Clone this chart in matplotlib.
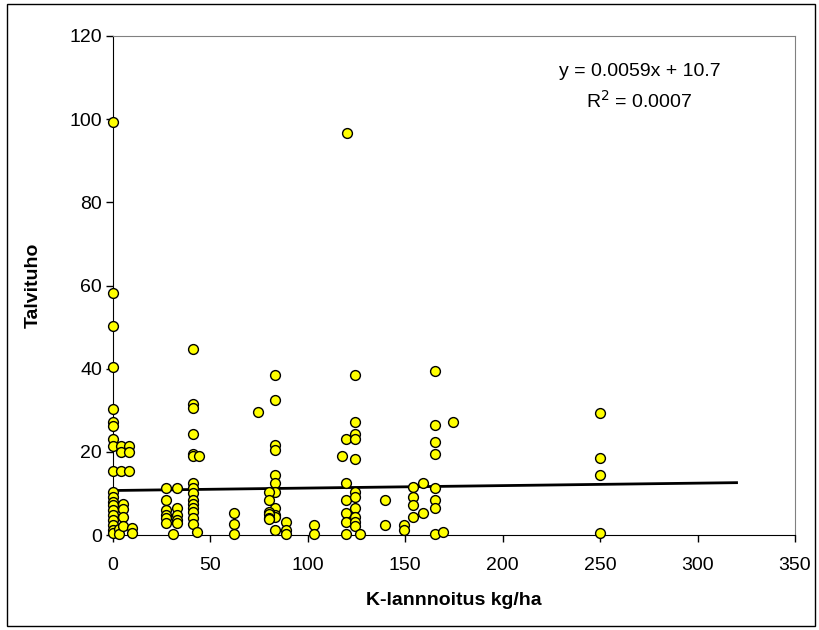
import numpy as np
import matplotlib.pyplot as plt
from matplotlib.patches import Rectangle

plt.rcParams['font.family'] = ['Liberation Sans', 'DejaVu Sans']

# K-lannoitus kg/ha
k_rate = [0, 0, 0, 0, 0, 0, 0, 0, 0, 0, 0, 0, 0, 0, 0, 0, 0, 0, 0, 0,
          4, 4, 4, 3, 3, 8, 8, 8, 5, 5, 5, 5, 10, 10,
          27, 27, 27, 27, 27, 27, 33, 33, 33, 33, 33, 31,
          41, 41, 41, 41, 41, 41, 41, 41, 41, 41, 41, 41, 41, 41, 41, 44, 43,
          62, 62, 62, 74.5,
          83, 83, 83, 83, 83, 83, 83, 83, 83, 83, 83,
          80, 80, 80, 80, 80, 80,
          89, 89, 89, 103, 103,
          120, 119.5, 119.5, 119.5, 119.5, 119.5, 119.5, 117.3,
          124, 124, 124, 124, 124, 124, 124, 124, 124, 124, 124, 127,
          139.5, 139.5, 149.5, 149.5, 154, 154, 154, 154, 159, 159,
          165.5, 165.5, 165.5, 165.5, 165.5, 165.5, 165.5, 165.5, 169.5, 174.5,
          250, 250, 250, 250]
# Talvituho
damage = [99.3, 58.3, 50.3, 40.5, 30.3, 27.2, 26.3, 23.2, 21.5, 15.4, 10.4, 9.2, 8.0, 7.2, 6.0, 4.8, 3.6, 2.4, 1.2, 0.4,
          21.5, 20.0, 15.4, 1.5, 0.3, 21.5, 20.0, 15.4, 7.5, 6.2, 4.4, 2.2, 1.6, 0.4,
          11.4, 8.4, 6.0, 4.8, 4.0, 3.0, 11.4, 6.6, 4.8, 3.6, 2.8, 0.3,
          44.7, 31.5, 30.5, 24.4, 19.5, 12.4, 11.3, 10.0, 8.4, 7.4, 6.4, 5.6, 4.0, 2.7, 19.0, 19.0, 0.8,
          5.2, 2.6, 0.2, 29.5,
          38.5, 32.5, 21.6, 20.4, 14.4, 12.6, 10.4, 6.4, 4.8, 1.2, 4.4,
          10.4, 8.4, 5.6, 5.0, 4.2, 3.8,
          3.2, 1.2, 0.2, 2.4, 0.2,
          96.7, 23.2, 12.4, 8.4, 5.2, 3.2, 0.2, 19.0,
          38.5, 27.2, 24.4, 23.2, 18.3, 10.4, 9.2, 6.4, 4.4, 3.2, 2.2, 0.2,
          8.4, 2.4, 2.4, 1.2, 11.5, 9.2, 7.2, 4.4, 12.4, 5.2,
          39.4, 26.5, 22.4, 19.4, 11.4, 8.4, 6.4, 0.2, 0.8, 27.2,
          29.4, 18.4, 14.4, 0.4]

slope = 0.0059
intercept = 10.7
fit_x = [0, 320]

fig = plt.figure(figsize=(8.19, 6.3), dpi=100)
ax = fig.add_axes([113 / 819, 95 / 630, 682 / 819, 499 / 630])

ax.scatter(k_rate, damage, s=50, c='#FFFF00', edgecolors='black', linewidths=1.0,
           zorder=3, clip_on=False)
ax.plot(fit_x, [intercept + slope * v for v in fit_x], color='black', lw=2, zorder=2)

ax.set_xlim(0, 350)
ax.set_ylim(0, 120)
ax.set_xticks(range(0, 351, 50))
ax.set_yticks(range(0, 121, 20))
ax.tick_params(direction='out', length=5, width=1, labelsize=14)
ax.tick_params(axis='x', pad=11)
ax.tick_params(axis='y', pad=3)
for s in ['top', 'right']:
    ax.spines[s].set_color('#808080')
for s in ['left', 'bottom']:
    ax.spines[s].set_color('black')

ax.set_xlabel('K-lannnoitus kg/ha', fontsize=14, fontweight='bold', labelpad=13)
ax.set_ylabel('Talvituho', fontsize=14, fontweight='bold', labelpad=20)

ax.text(0.772, 0.928, 'y = 0.0059x + 10.7', transform=ax.transAxes,
        ha='center', va='center', fontsize=14)
ax.text(0.772, 0.871, 'R$^2$ = 0.0007', transform=ax.transAxes,
        ha='center', va='center', fontsize=14)

fig.patches.append(Rectangle((7 / 819, 4 / 630), 808 / 819, 622 / 630,
                             transform=fig.transFigure, fill=False,
                             edgecolor='black', lw=1))

fig.savefig('out.png', dpi=100)
